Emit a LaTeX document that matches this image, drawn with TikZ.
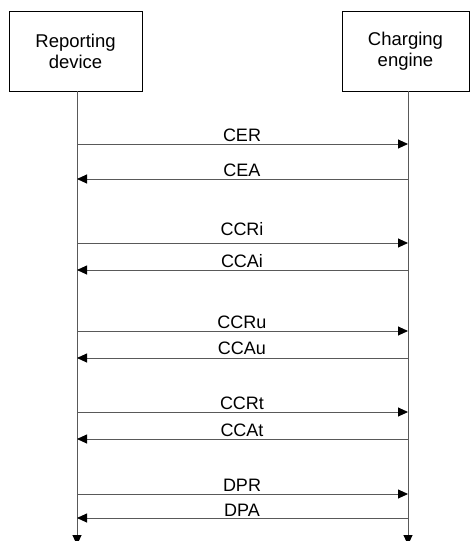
\documentclass[tikz,border=0pt]{standalone}
\usepackage{fontspec}
\setmainfont{Liberation Sans}
\usetikzlibrary{arrows.meta}
\begin{document}
\begin{tikzpicture}[x=1pt,y=-1pt,
  actor/.style={draw=black,line width=0.7pt,minimum width=133pt,minimum height=80pt,align=center,font=\fontsize{18.5}{21}\selectfont,inner sep=0pt},
  life/.style={draw=black!65,line width=0.9pt,-{Triangle[length=10pt,width=9pt,fill=black,color=black]}},
  msg/.style={draw=black!65,line width=0.9pt,-{Triangle[length=10pt,width=9pt,fill=black,color=black]}},
  lbl/.style={font=\fontsize{18}{20}\selectfont,inner sep=0pt,anchor=base}
]
\useasboundingbox (0,0) rectangle (469,541);
\node[actor] (rd) at (75.5,51) {Reporting\\device};
\node[actor,minimum width=127pt] (ce) at (405.5,51) {Charging\\engine};
\coordinate (l0) at (77,91);
\coordinate (r0) at (408,91);
\coordinate (lend) at (77,545);
\coordinate (rend) at (408,545);
\draw[life] (l0) -- (lend);
\draw[life] (r0) -- (rend);
% messages
\foreach \name/\y/\g in {CER/144/3, CEA/179/3, CCRi/243/8, CCAi/270/3, CCRu/331/3, CCAu/358/4, CCRt/412/3, CCAt/439/3, DPR/494/3, DPA/518/1.5}{
  \coordinate (L\name) at (77,\y);
  \coordinate (R\name) at (408,\y);
  \node[lbl] (t\name) at (242,\y-\g) {\name};
}
\foreach \name in {CER,CCRi,CCRu,CCRt,DPR}{\draw[msg] (L\name) -- (R\name);}
\foreach \name in {CEA,CCAi,CCAu,CCAt,DPA}{\draw[msg] (R\name) -- (L\name);}
\end{tikzpicture}
\end{document}
